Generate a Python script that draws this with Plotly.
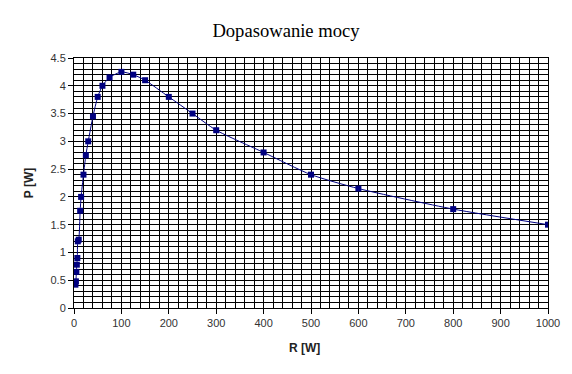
import plotly.graph_objects as go

R = [3, 4, 5, 6, 7, 8, 10, 13, 15, 20, 25, 30, 40, 50, 60, 75, 100, 125, 150,
     200, 250, 300, 400, 500, 600, 800, 1000]
P = [0.42, 0.48, 0.65, 0.78, 0.9, 1.2, 1.23, 1.75, 2.0, 2.4, 2.75, 3.0, 3.45,
     3.8, 4.0, 4.15, 4.25, 4.2, 4.1, 3.8, 3.5, 3.2, 2.8, 2.4, 2.15, 1.78, 1.5]

x_ticks = list(range(0, 1001, 100))
y_ticks = [i * 0.5 for i in range(10)]
y_labels = ["0", "0.5", "1", "1.5", "2", "2.5", "3", "3.5", "4", "4.5"]

fig = go.Figure()
fig.add_trace(go.Scatter(
    x=R, y=P, mode="lines+markers",
    line=dict(color="#000080", width=1, shape="spline", smoothing=0.6),
    marker=dict(symbol="square", size=6, color="#000080"),
    showlegend=False,
))

fig.update_layout(
    width=572, height=374,
    margin=dict(l=66, r=32, t=50, b=74),
    paper_bgcolor="white", plot_bgcolor="white",
    title=dict(text="Dopasowanie mocy", x=0.486, xanchor="center", y=0.941, yanchor="middle",
               font=dict(family="Liberation Serif", size=18.6, color="black")),
    font=dict(family="Liberation Sans", size=11, color="#333333"),
    annotations=[dict(text="<b>R [W]</b>", xref="paper", yref="paper",
                      x=0.487, y=-0.16, xanchor="center", yanchor="middle",
                      showarrow=False, font=dict(size=12, color="#222222"))],
)
fig.update_xaxes(
    range=[0, 1000], tickvals=x_ticks, ticktext=[str(v) for v in x_ticks],
    showgrid=True, gridcolor="black", gridwidth=1,
    minor=dict(dtick=20, tick0=0, showgrid=True, gridcolor="black", gridwidth=1),
    showline=True, linecolor="black", linewidth=1, mirror=True,
    ticks="outside", ticklen=5, tickcolor="black", zeroline=False,
)
fig.update_yaxes(
    range=[0, 4.5], tickvals=y_ticks, ticktext=y_labels,
    showgrid=True, gridcolor="black", gridwidth=1,
    minor=dict(dtick=0.1, tick0=0, showgrid=True, gridcolor="black", gridwidth=1),
    showline=True, linecolor="black", linewidth=1, mirror=True,
    ticks="outside", ticklen=5, tickcolor="black", zeroline=False,
    title=dict(text="<b>P [W]</b>", font=dict(size=12, color="#222222"), standoff=14),
)

fig.write_html("out.html")
